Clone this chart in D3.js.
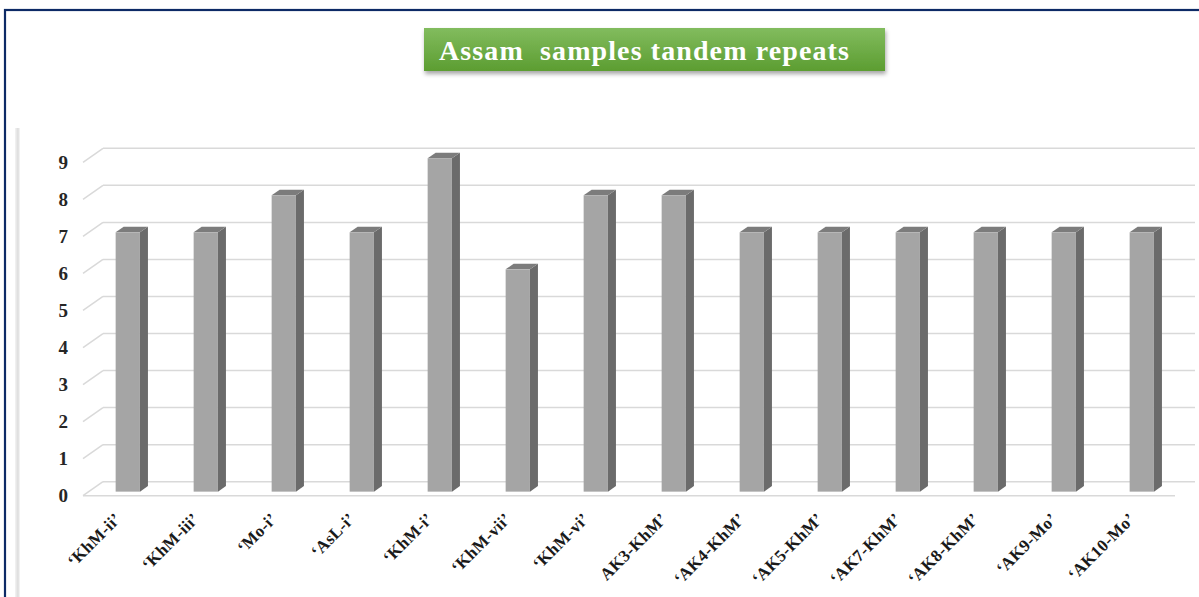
<!DOCTYPE html>
<html>
<head>
<meta charset="utf-8">
<script src="https://cdn.jsdelivr.net/npm/d3@7"></script>
<style>
  body { margin: 0; background: #fff; }
  svg { display: block; }
  text { font-family: "Liberation Serif", "Times New Roman", serif; font-weight: bold; }
</style>
</head>
<body>
<svg id="chart" width="1199" height="597"></svg>
<script>
const categories = ["‘KhM-ii’", "‘KhM-iii’", "‘Mo-i’", "‘AsL-i’", "‘KhM-i’", "‘KhM-vii’", "‘KhM-vi’",
  "AK3-KhM’", "‘AK4-KhM’", "‘AK5-KhM’", "‘AK7-KhM’", "‘AK8-KhM’", "‘AK9-Mo’", "‘AK10-Mo’"];
const repeats = [7, 7, 8, 7, 9, 6, 8, 8, 7, 7, 7, 7, 7, 7];
const yTicks = [0, 1, 2, 3, 4, 5, 6, 7, 8, 9];
const title = "Assam  samples tandem repeats";

const svg = d3.select("#chart");
const W = +svg.attr("width");
const H = +svg.attr("height");

// oblique depth of the 3d box
const depthX = 20, depthY = 14;
const barD1 = 0.29, barD2 = 0.69;

const x = d3.scaleBand().domain(categories).range([83, 1175]).padding(0);
// y on the back wall
const y = d3.scaleLinear().domain([0, 9]).range([481.7, 148.3]);

const defs = svg.append("defs");
const grad = defs.append("linearGradient").attr("id", "titleGrad")
  .attr("x1", 0).attr("y1", 0).attr("x2", 0).attr("y2", 1);
grad.append("stop").attr("offset", "0%").attr("stop-color", "#82bc5e");
grad.append("stop").attr("offset", "100%").attr("stop-color", "#5c9d31");

const shadow = defs.append("filter").attr("id", "shadow")
  .attr("x", "-10%").attr("y", "-30%").attr("width", "120%").attr("height", "170%");
shadow.append("feDropShadow").attr("dx", 1).attr("dy", 3).attr("stdDeviation", 2)
  .attr("flood-color", "#000").attr("flood-opacity", 0.35);

const edgeGrad = defs.append("linearGradient").attr("id", "edgeGrad")
  .attr("x1", 0).attr("y1", 0).attr("x2", 1).attr("y2", 0);
edgeGrad.append("stop").attr("offset", "0%").attr("stop-color", "#f4f4f4");
edgeGrad.append("stop").attr("offset", "60%").attr("stop-color", "#dcdcdc");
edgeGrad.append("stop").attr("offset", "100%").attr("stop-color", "#f8f8f8");

// outer frame
svg.append("rect").attr("x", 5).attr("y", 10).attr("width", W + 20).attr("height", H + 20)
  .attr("fill", "none").attr("stroke", "#0d2a66").attr("stroke-width", 2.2);

// faint chart-area edge
svg.append("rect").attr("x", 15).attr("y", 128).attr("width", 5).attr("height", H - 128)
  .attr("fill", "url(#edgeGrad)");

// title box
svg.append("rect").attr("x", 424).attr("y", 28).attr("width", 461).attr("height", 43)
  .attr("fill", "url(#titleGrad)").attr("filter", "url(#shadow)");
svg.append("text").attr("x", 439).attr("y", 59.5)
  .attr("fill", "#fff").attr("font-size", 28)
  .attr("letter-spacing", 1.1)
  .style("white-space", "pre")
  .text(title);

const grid = svg.append("g").attr("stroke", "#d9d9d9").attr("stroke-width", 1.5).attr("fill", "none");
const x0 = x.range()[0], x1 = x.range()[1];

// back wall lines
grid.selectAll("line.back").data(yTicks).join("line").attr("class", "back")
  .attr("x1", x0 + depthX).attr("x2", x1 + depthX)
  .attr("y1", d => y(d)).attr("y2", d => y(d));
// left wall diagonals
grid.selectAll("line.side").data(yTicks).join("line").attr("class", "side")
  .attr("x1", x0).attr("y1", d => y(d) + depthY)
  .attr("x2", x0 + depthX).attr("y2", d => y(d));
// floor front edge
grid.append("line").attr("x1", x0).attr("x2", x1)
  .attr("y1", y(0) + depthY).attr("y2", y(0) + depthY);

// y labels
svg.append("g").selectAll("text").data(yTicks).join("text")
  .attr("x", 68).attr("y", d => y(d) + depthY)
  .attr("dy", "0.35em").attr("text-anchor", "end")
  .attr("font-size", 19).attr("fill", "#262626")
  .text(d => d);

// bars
const barW = 24.3;
const bars = svg.append("g").selectAll("g").data(categories).join("g");
bars.each(function (c, i) {
  const g = d3.select(this);
  const v = repeats[i];
  const cx = x(c) + x.bandwidth() / 2;
  const fx = cx - barW / 2 + depthX * barD1;
  const fyTop = y(v) + depthY * (1 - barD1);
  const fyBot = y(0) + depthY * (1 - barD1);
  const ox = depthX * (barD2 - barD1), oy = depthY * (barD2 - barD1);
  g.append("path")
    .attr("d", `M${fx + barW},${fyTop} L${fx + barW + ox},${fyTop - oy} L${fx + barW + ox},${fyBot - oy} L${fx + barW},${fyBot} Z`)
    .attr("fill", "#6b6b6b");
  g.append("path")
    .attr("d", `M${fx},${fyTop} L${fx + ox},${fyTop - oy} L${fx + barW + ox},${fyTop - oy} L${fx + barW},${fyTop} Z`)
    .attr("fill", "#7c7c7c");
  g.append("rect").attr("x", fx).attr("y", fyTop).attr("width", barW).attr("height", fyBot - fyTop)
    .attr("fill", "#a5a5a5");
});

// x labels
svg.append("g").selectAll("text").data(categories).join("text")
  .attr("transform", c => `translate(${x(c) + x.bandwidth() / 2},${520}) rotate(-45)`)
  .attr("text-anchor", "end")
  .attr("font-size", 17).attr("letter-spacing", 0.3).attr("fill", "#1a1a1a")
  .text(c => c);
</script>
</body>
</html>
